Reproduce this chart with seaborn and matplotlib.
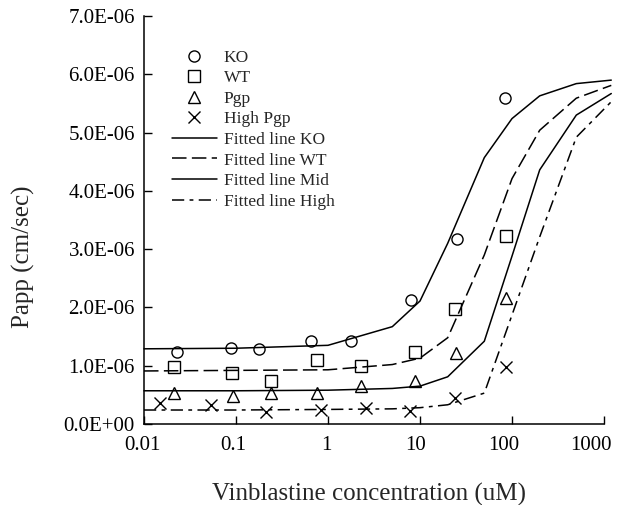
import matplotlib
matplotlib.use("Agg")
import matplotlib.pyplot as plt
import matplotlib.ticker as mticker
import matplotlib.transforms as mtransforms
import seaborn as sns
import pandas as pd
import numpy as np

# ---- data (values in 1e-6 cm/sec) ----
ko_conc = [0.023, 0.088, 0.18, 0.66, 1.8, 8.0, 25, 83]
ko_vals = [1.24, 1.30, 1.28, 1.42, 1.42, 2.13, 3.17, 5.60]
wt_conc = [0.021, 0.091, 0.24, 0.75, 2.3, 8.8, 24, 85]
wt_vals = [0.97, 0.88, 0.74, 1.10, 0.99, 1.24, 1.98, 3.23]
pgp_conc = [0.021, 0.093, 0.24, 0.76, 2.3, 8.8, 24.5, 87]
pgp_vals = [0.53, 0.48, 0.53, 0.54, 0.65, 0.73, 1.21, 2.17]
high_conc = [0.015, 0.054, 0.21, 0.84, 2.6, 7.8, 24, 87]
high_vals = [0.36, 0.33, 0.20, 0.24, 0.28, 0.23, 0.44, 0.98]

fit_conc = [0.01, 0.1, 1, 5, 10, 20, 50, 100, 200, 500, 1200]
ko_fit = [1.29, 1.30, 1.35, 1.67, 2.11, 3.10, 4.57, 5.24, 5.63, 5.84, 5.90]
wt_fit = [0.91, 0.92, 0.93, 1.02, 1.13, 1.48, 2.90, 4.21, 5.04, 5.59, 5.81]
mid_fit = [0.57, 0.57, 0.58, 0.61, 0.65, 0.81, 1.42, 2.88, 4.36, 5.30, 5.67]
high_fit = [0.24, 0.24, 0.25, 0.26, 0.28, 0.33, 0.53, 1.87, 3.21, 4.92, 5.53]

x_ticks = [0.01, 0.1, 1, 10, 100, 1000]
x_ticklabels = ["0.01", "0.1", "1", "10", "100", "1000"]
y_ticks = [0, 1e-6, 2e-6, 3e-6, 4e-6, 5e-6, 6e-6, 7e-6]
y_ticklabels = ["0.0E+00", "1.0E-06", "2.0E-06", "3.0E-06",
                "4.0E-06", "5.0E-06", "6.0E-06", "7.0E-06"]

SCALE = 1e-6

sns.set_style("ticks")
FONT = ["Liberation Serif", "DejaVu Serif"]
plt.rcParams["font.family"] = FONT

fig = plt.figure(figsize=(6.22, 5.05), dpi=100)
ax = fig.add_axes([144 / 622, 1 - 424 / 505, 460 / 622, 408 / 505])

# points
pts = [
    ("KO", ko_conc, ko_vals, "o", 8),
    ("WT", wt_conc, wt_vals, "s", 8),
    ("Pgp", pgp_conc, pgp_vals, "^", 9),
    ("High Pgp", high_conc, high_vals, "x", 9),
]
for name, xs, ys, mk, ms in pts:
    df = pd.DataFrame({"x": xs, "y": np.array(ys) * SCALE})
    sns.lineplot(data=df, x="x", y="y", ax=ax, linestyle="", marker=mk,
                 markersize=ms, markerfacecolor="none", markeredgecolor="black",
                 markeredgewidth=1.0, color="black", label=name, sort=False,
                 clip_on=False)

# fitted lines
fits = [
    ("Fitted line KO", ko_fit, (None, None)),
    ("Fitted line WT", wt_fit, (9.5, 3.5)),
    ("Fitted line Mid", mid_fit, (None, None)),
    ("Fitted line High", high_fit, (8, 3.5, 2.5, 3.5)),
]
for name, ys, dash in fits:
    df = pd.DataFrame({"x": fit_conc, "y": np.array(ys) * SCALE})
    kw = {}
    if dash[0] is not None:
        kw["dashes"] = dash
    sns.lineplot(data=df, x="x", y="y", ax=ax, color="black", linewidth=1.1,
                 label=name, clip_on=False, **kw)

ax.set_xscale("log")
ax.set_xlim(0.01, 1000)
ax.set_ylim(0, 7e-6)
ax.xaxis.set_major_locator(mticker.FixedLocator(x_ticks))
ax.xaxis.set_major_formatter(mticker.FixedFormatter(x_ticklabels))
ax.xaxis.set_minor_locator(mticker.NullLocator())
ax.yaxis.set_major_locator(mticker.FixedLocator(y_ticks))
ax.yaxis.set_major_formatter(mticker.FixedFormatter(y_ticklabels))

ax.tick_params(axis="both", direction="in", length=6, width=1, colors="black",
               labelsize=15)
ax.tick_params(axis="x", pad=9)
ax.tick_params(axis="y", pad=6.5)
for s in ["top", "right"]:
    ax.spines[s].set_visible(False)
for s in ["left", "bottom"]:
    ax.spines[s].set_linewidth(1.1)
    ax.spines[s].set_color("black")

# small leftward shifts of x tick labels as in the reference
fig.canvas.draw()
x_shift_px = [-1.5, -2.5, -2, -4, -8, -13]
for lab, dx in zip(ax.get_xticklabels(), x_shift_px):
    lab.set_transform(lab.get_transform() +
                      mtransforms.ScaledTranslation(dx / 100, 0, fig.dpi_scale_trans))

ax.set_xlabel("Vinblastine concentration (uM)", fontsize=18)
ax.set_ylabel("Papp (cm/sec)", fontsize=18)
ax.xaxis.set_label_coords(0.49, -0.145)
ax.yaxis.set_label_coords(-0.237, 0.41)

handles, labels = ax.get_legend_handles_labels()
leg = ax.legend(handles, labels, loc="upper left", bbox_to_anchor=(0.06, 0.918),
                frameon=False, fontsize=12.5, handlelength=2.6,
                handletextpad=0.4, labelspacing=0.255, borderpad=0,
                borderaxespad=0)

fig.savefig("out.png", dpi=100)
